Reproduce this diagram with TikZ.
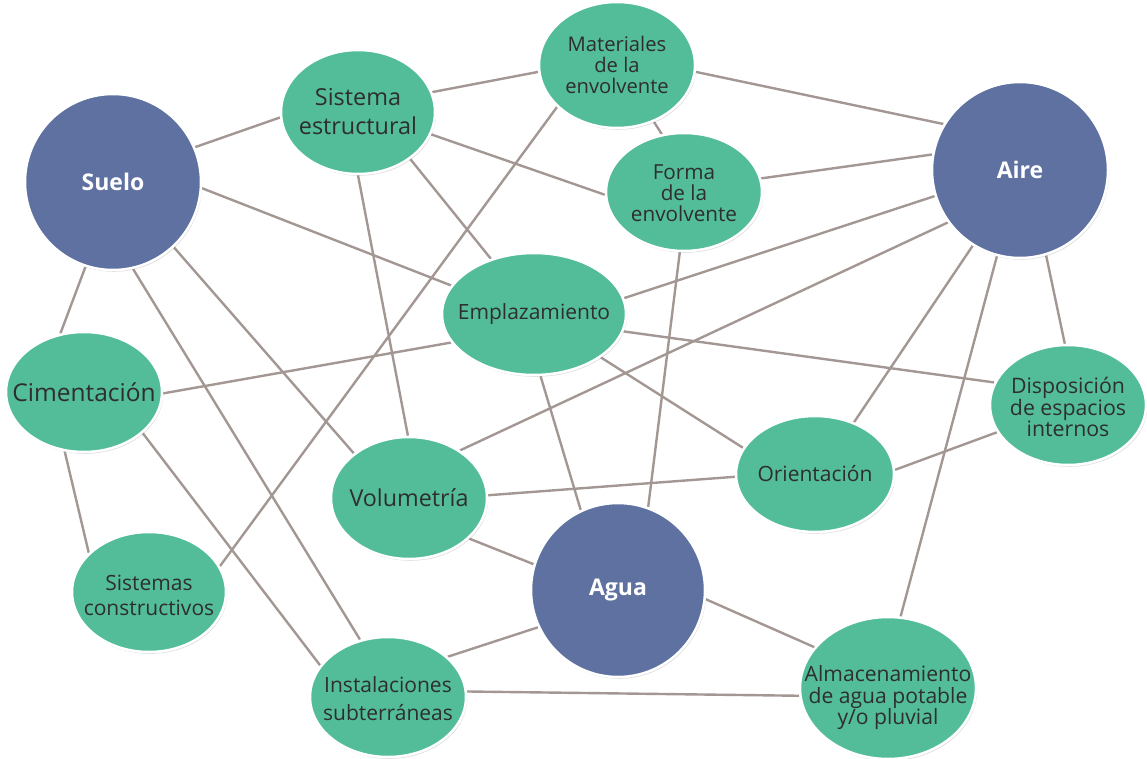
\documentclass[tikz,border=0pt]{standalone}
\usepackage{fontspec}
\setmainfont{Open Sans}
\usetikzlibrary{shapes.geometric,shadows}
\definecolor{hubblue}{HTML}{5E71A0}
\definecolor{topicgreen}{HTML}{52BD98}
\definecolor{linkgray}{HTML}{A39793}
\definecolor{labeltext}{HTML}{2E2E2E}
\pgfdeclarelayer{background}
\pgfsetlayers{background,main}
\tikzset{
  bubble/.style={ellipse, draw=white, line width=2.5pt, inner sep=0pt,
    drop shadow={opacity=0.25, shadow xshift=1.2pt, shadow yshift=-1.8pt}},
  hub/.style={bubble, fill=hubblue},
  topic/.style={bubble, fill=topicgreen},
  hubtext/.style={inner sep=0pt, text=white, font=\bfseries\fontsize{23}{26}\selectfont},
  topictext/.style={inner sep=0pt, align=center, text=labeltext, font=\fontsize{21}{21.5}\selectfont},
  link/.style={draw=linkgray, line width=2.4pt}
}
\begin{document}
\begin{tikzpicture}[x=1pt,y=-1pt]
\useasboundingbox (0,0) rectangle (1147,759);
% hubs
\node[hub, minimum width=176pt, minimum height=176pt] (suelo) at (113,182) {};
\node[hubtext] (suelo-l) at (suelo) {Suelo};
\node[hub, minimum width=176pt, minimum height=176pt] (aire) at (1020,170) {};
\node[hubtext] (aire-l) at (aire) {Aire};
\node[hub, minimum width=174pt, minimum height=174pt] (agua) at (618,590) {};
\node[hubtext] (agua-l) at (agua) {Agua};
% topics
\node[topic, minimum width=154pt, minimum height=124pt] (estr) at (358,112) {};
\node[topictext, font=\fontsize{23.4}{29}\selectfont] (estr-l) at (estr) {Sistema\\estructural};
\node[topic, minimum width=156pt, minimum height=126pt] (mat) at (617,65) {};
\node[topictext, font=\fontsize{20.2}{21}\selectfont] (mat-l) at (mat) {Materiales\\de la\\envolvente};
\node[topic, minimum width=156pt, minimum height=118pt] (forma) at (684,192) {};
\node[topictext, font=\fontsize{20.7}{21}\selectfont, yshift=-1pt] (forma-l) at (forma) {Forma\\de la\\envolvente};
\node[topic, minimum width=184pt, minimum height=122pt] (empl) at (534,314) {};
\node[topictext] (empl-l) at (empl) {Emplazamiento};
\node[topic, minimum width=156pt, minimum height=120pt] (cim) at (84,392) {};
\node[topictext, font=\fontsize{24.5}{26}\selectfont] (cim-l) at (cim) {Cimentación};
\node[topic, minimum width=156pt, minimum height=120pt] (disp) at (1068,405) {};
\node[topictext, font=\fontsize{21.3}{21.5}\selectfont, yshift=-2pt] (disp-l) at (disp) {Disposición\\de espacios\\internos};
\node[topic, minimum width=158pt, minimum height=116pt] (ori) at (815,474) {};
\node[topictext] (ori-l) at (ori) {Orientación};
\node[topic, minimum width=156pt, minimum height=122pt] (vol) at (409,498) {};
\node[topictext, font=\fontsize{23.3}{25}\selectfont] (vol-l) at (vol) {Volumetría};
\node[topic, minimum width=154pt, minimum height=120pt] (scon) at (149,592) {};
\node[topictext, font=\fontsize{21}{25}\selectfont, yshift=-3pt] (scon-l) at (scon) {Sistemas\\constructivos};
\node[topic, minimum width=156pt, minimum height=120pt] (inst) at (388,697) {};
\node[topictext, font=\fontsize{21}{28}\selectfont, yshift=-2pt] (inst-l) at (inst) {Instalaciones\\subterráneas};
\node[topic, minimum width=176pt, minimum height=142pt] (alm) at (888,688) {};
\node[topictext, font=\fontsize{21.1}{21.5}\selectfont, yshift=-10pt] (alm-l) at (alm) {Almacenamiento\\de agua potable\\y/o pluvial};
% connections
\begin{pgfonlayer}{background}
\draw[link] (suelo.23) -- (estr.184);
\draw[link] (suelo.-4) -- (empl.161);
\draw[link] (suelo.252) -- (cim.112);
\draw[link] (suelo.-47) -- (vol.141);
\draw[link] (suelo.-77) -- (inst.116);
\draw[link] (estr.15) -- (mat.185);
\draw[link] (estr.-17) -- (forma.182);
\draw[link] (estr.-42) -- (empl.128);
\draw[link] (estr.-90) -- (vol.91);
\draw[link] (mat.-5) -- (aire.149);
\draw[link] (mat.-57) -- (forma.111);
\draw[link] (mat.215) -- (scon.20);
\draw[link] (forma.10) -- (aire.170);
\draw[link] (forma.266) -- (agua.70);
\draw[link] (aire.197) -- (empl.10);
\draw[link] (aire.216) -- (vol.43);
\draw[link] (aire.238) -- (ori.53);
\draw[link] (aire.255) -- (alm.80);
\draw[link] (aire.-73) -- (disp.93);
\draw[link] (empl.199) -- (cim.-1);
\draw[link] (empl.-11) -- (disp.163);
\draw[link] (empl.-33) -- (ori.160);
\draw[link] (empl.-84) -- (agua.115);
\draw[link] (cim.252) -- (scon.147);
\draw[link] (cim.-35) -- (inst.155);
\draw[link] (vol.2) -- (ori.182);
\draw[link] (vol.-34) -- (agua.163);
\draw[link] (ori.3) -- (disp.201);
\draw[link] (agua.205) -- (inst.34);
\draw[link] (agua.-6) -- (alm.151);
\draw[link] (inst.4) -- (alm.185);
\end{pgfonlayer}
\end{tikzpicture}
\end{document}
